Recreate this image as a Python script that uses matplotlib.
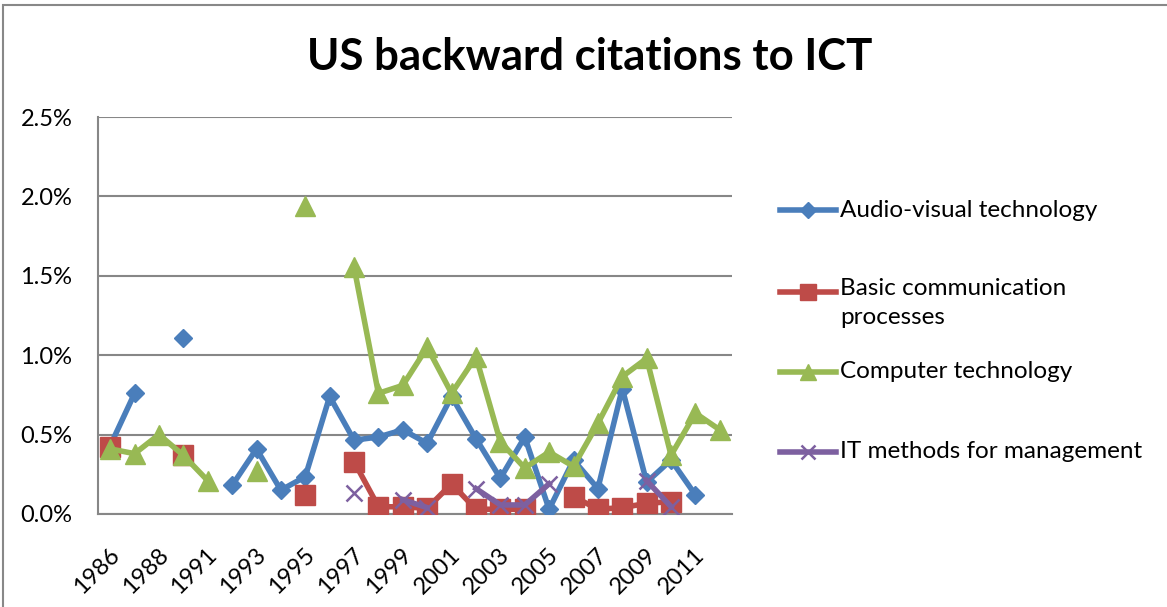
import numpy as np
import matplotlib
matplotlib.use("Agg")
import matplotlib.pyplot as plt
import matplotlib.transforms as mtransforms
from matplotlib.lines import Line2D
from matplotlib.patches import Rectangle
from matplotlib.ticker import FuncFormatter

plt.rcParams["font.family"] = ["Lato", "DejaVu Sans"]

nan = np.nan
years = ["1986", "1987", "1988", "1990", "1991", "1992", "1993", "1994", "1995",
         "1996", "1997", "1998", "1999", "2000", "2001", "2002", "2003", "2004",
         "2005", "2006", "2007", "2008", "2009", "2010", "2011", "2012"]

# shares in percent
audio_visual = [0.43, 0.76, nan, 1.11, nan, 0.18, 0.41, 0.15, 0.235, 0.74, 0.465, 0.485,
                0.53, 0.445, 0.74, 0.475, 0.225, 0.485, 0.03, 0.34, 0.16, 0.79, 0.20,
                0.34, 0.12, nan]
basic_comm = [0.42, nan, nan, 0.37, nan, nan, nan, nan, 0.12, nan, 0.33, 0.046,
              0.045, 0.036, 0.19, 0.03, 0.03, 0.03, nan, 0.11, 0.03, 0.04, 0.067,
              0.078, nan, nan]
computer = [0.41, 0.38, 0.50, 0.37, 0.21, nan, 0.27, nan, 1.94, nan, 1.555, 0.76,
            0.81, 1.05, 0.76, 0.99, 0.455, 0.29, 0.39, 0.30, 0.57, 0.865, 0.98,
            0.37, 0.635, 0.53]
it_methods = [nan, nan, nan, nan, nan, nan, nan, nan, nan, nan, 0.13, nan,
              0.09, 0.04, nan, 0.16, 0.057, 0.057, 0.19, nan, nan, nan, 0.21,
              0.046, nan, nan]

labels = ["Audio-visual technology", "Basic communication\nprocesses",
          "Computer technology", "IT methods for management"]
colors = ["#4A7EBB", "#BE4B48", "#98B954", "#7D60A0"]
markers = ["D", "s", "^", "x"]
msizes = [9.5, 14, 14, 12]

fig = plt.figure(figsize=(11.67, 6.07), dpi=100)
ax = fig.add_axes([98 / 1167, 1 - 514 / 607, 634 / 1167, 397 / 607])

x = np.arange(len(years))
series = [audio_visual, basic_comm, computer, it_methods]
for i, vals in enumerate(series):
    mew = 1.8 if markers[i] == "x" else 1
    ax.plot(x, vals, color=colors[i], lw=4, marker=markers[i], ms=msizes[i],
            mec=colors[i], mfc=colors[i], mew=mew, zorder=3 + i)

ax.set_xlim(-0.5, len(years) - 0.5)
ax.set_ylim(0, 2.5)
ax.set_yticks(np.arange(0, 2.51, 0.5))
ax.yaxis.set_major_formatter(FuncFormatter(lambda v, p: f"{v:.1f}%"))
ax.grid(axis="y", color="#878787", lw=1.5)
ax.set_axisbelow(True)
for s in ["top", "right"]:
    ax.spines[s].set_visible(False)
for s in ["left", "bottom"]:
    ax.spines[s].set_color("#878787")
    ax.spines[s].set_linewidth(1.5)
ax.tick_params(axis="y", length=0, pad=18.5, labelsize=17)
ax.tick_params(axis="x", length=0, pad=27, labelsize=17)
ax.set_xticks(x[::2])
ax.set_xticklabels(years[::2], rotation=45, ha="right", va="center",
                   rotation_mode="anchor")
shift = mtransforms.ScaledTranslation(6 / 100, 0, fig.dpi_scale_trans)
for lab in ax.get_xticklabels():
    lab.set_transform(lab.get_transform() + shift)

fig.text(0.5055, 0.906, "US backward citations to ICT", ha="center", va="center",
         fontsize=31.5, fontweight="bold")

# legend on the right
leg_y = [210, 292, 372, 452]
for i in range(4):
    yf = 1 - leg_y[i] / 607
    fig.add_artist(Line2D([780 / 1167, 836 / 1167], [yf, yf], color=colors[i], lw=4,
                          transform=fig.transFigure))
    mew = 1.8 if markers[i] == "x" else 1
    fig.add_artist(Line2D([808 / 1167], [yf], color=colors[i], marker=markers[i],
                          ms=msizes[i] * 0.85, mec=colors[i], mfc=colors[i], mew=mew,
                          transform=fig.transFigure))
    if i == 1:
        fig.text(840 / 1167, yf + 14 / 607, labels[i], ha="left", va="top",
                 fontsize=17.5, linespacing=1.45)
    else:
        fig.text(840 / 1167, yf, labels[i], ha="left", va="center", fontsize=17.5)

fig.add_artist(Rectangle((3 / 1167, -0.1), 1.2, 1.1 - 5 / 607, fill=False,
                         edgecolor="#888888", lw=1.5, transform=fig.transFigure))

fig.savefig("out.png", dpi=100)
